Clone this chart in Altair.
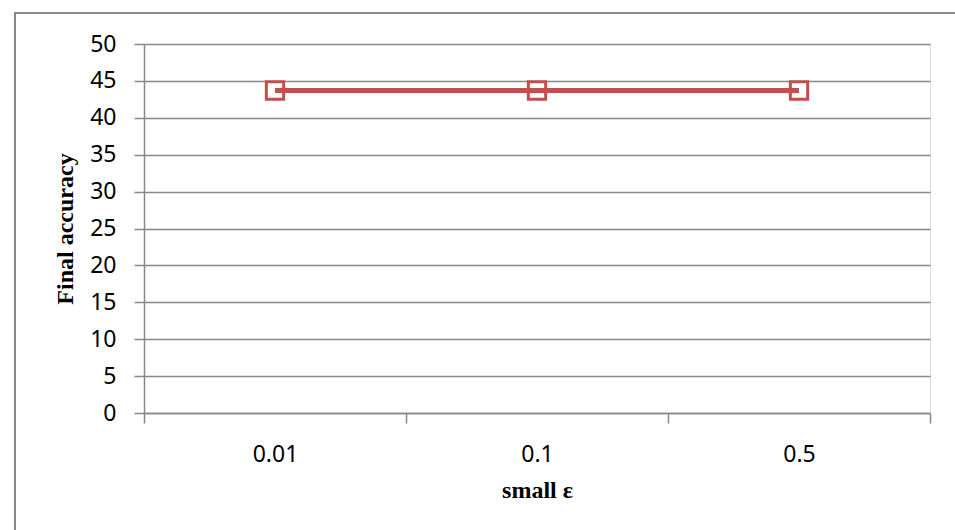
import altair as alt
import pandas as pd

categories = ["0.01", "0.1", "0.5"]
accuracy = [43.7, 43.7, 43.7]

df = pd.DataFrame({"eps": categories, "acc": accuracy})

W, H = 786, 369
LINE_COLOR = "#C0504D"
GRID = "#878787"

x_enc = alt.X(
    "eps:N",
    sort=categories,
    bandPosition=0.5,
    scale=alt.Scale(type="band", paddingInner=0, paddingOuter=0),
    axis=alt.Axis(
        title="small ε",
        labelAngle=0,
        tickBand="extent",
        tickSize=10,
        tickColor=GRID,
        tickWidth=1.5,
        domainColor=GRID,
        domainWidth=1.5,
        labelPadding=20,
        labelFontSize=23,
        labelFont="Noto Sans",
        labelColor="#000000",
        titleFont="Liberation Serif",
        titleFontSize=24,
        titleFontWeight="bold",
        titleColor="#000000",
        titlePadding=12,
        grid=False,
    ),
)
y_enc = alt.Y(
    "acc:Q",
    scale=alt.Scale(domain=[0, 50], nice=False),
    axis=alt.Axis(
        title="Final accuracy",
        values=list(range(0, 51, 5)),
        tickSize=10,
        tickColor=GRID,
        tickWidth=1.5,
        domainColor=GRID,
        domainWidth=1.5,
        gridColor=GRID,
        gridWidth=1.5,
        labelPadding=18,
        labelFontSize=23,
        labelFont="Noto Sans",
        labelColor="#000000",
        titleFont="Liberation Serif",
        titleFontSize=24,
        titleFontWeight="bold",
        titleColor="#000000",
        titlePadding=12,
    ),
)

line = alt.Chart(df).mark_line(color=LINE_COLOR, strokeWidth=5).encode(x=x_enc, y=y_enc)
pts = alt.Chart(df).mark_point(
    shape="square", size=300, filled=False, stroke=LINE_COLOR, strokeWidth=3, opacity=1
).encode(x=x_enc, y=y_enc)

frame = alt.Chart(df).mark_rect(
    fill=None, stroke="#878787", strokeWidth=2, clip=False
).encode(
    x=alt.value(-129), x2=alt.value(840), y=alt.value(-31), y2=alt.value(520)
)

chart = alt.layer(line, pts, frame).properties(
    width=W, height=H,
    autosize=alt.AutoSizeParams(type="none"),
    padding={"left": 144, "top": 44, "right": 25, "bottom": 117},
).configure_view(stroke=None).configure(background="white")

chart.save("out.html", embed_options={"renderer": "svg", "actions": False})
